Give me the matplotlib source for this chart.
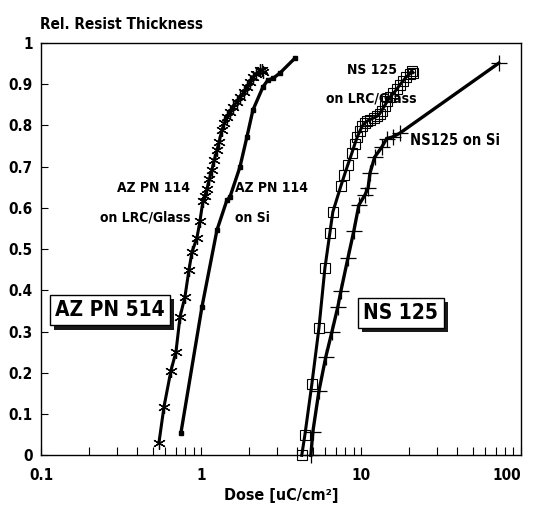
# Curvas de contraste: espesor relativo de resist frente a la dosis
import matplotlib
matplotlib.use('Agg')
import matplotlib.pyplot as plt
import matplotlib.patheffects as pe
from matplotlib.ticker import FixedLocator, LogLocator, NullFormatter

plt.rcParams['font.family'] = ['DejaVu Sans']
plt.rcParams['font.stretch'] = 'condensed'
plt.rcParams['font.weight'] = 'bold'

# AZ PN 114 sobre LRC/Glass (asteriscos)
az_glass_dose = [0.546, 0.587, 0.649, 0.698, 0.740, 0.794, 0.841, 0.879, 0.944, 0.986,
                 1.029, 1.06, 1.09, 1.13, 1.17, 1.21, 1.26, 1.30, 1.35, 1.40, 1.45,
                 1.52, 1.59, 1.67, 1.75, 1.85, 1.94, 2.03, 2.11, 2.22, 2.34, 2.40, 2.44]
az_glass_thk = [0.030, 0.117, 0.205, 0.251, 0.336, 0.384, 0.449, 0.493, 0.527, 0.568,
                0.617, 0.630, 0.645, 0.670, 0.692, 0.715, 0.740, 0.760, 0.788, 0.805, 0.820,
                0.832, 0.845, 0.857, 0.868, 0.880, 0.893, 0.905, 0.917, 0.925, 0.934, 0.935, 0.930]

# AZ PN 114 sobre Si (linea)
az_si_dose = [0.750, 1.015, 1.259, 1.454, 1.517, 1.753, 1.939, 2.113, 2.44, 2.62, 2.82, 3.12, 3.87]
az_si_thk = [0.055, 0.360, 0.546, 0.619, 0.626, 0.699, 0.772, 0.837, 0.893, 0.910, 0.914, 0.927, 0.963]

# NS 125 sobre LRC/Glass (cuadrados)
ns_glass_dose = [4.27, 4.47, 4.94, 5.47, 5.96, 6.40, 6.68, 7.50, 7.9, 8.3, 8.79, 9.17, 9.5,
                 9.86, 10.2, 10.6, 11.0, 11.4, 12.0, 12.6, 13.1, 13.5, 14.1, 14.6, 15.2,
                 16.0, 16.8, 17.5, 18.3, 19.2, 20.2, 20.8, 21.2]
ns_glass_thk = [0.0, 0.05, 0.173, 0.309, 0.454, 0.539, 0.590, 0.653, 0.68, 0.705, 0.733, 0.755, 0.772,
                0.786, 0.798, 0.806, 0.811, 0.814, 0.818, 0.822, 0.828, 0.836, 0.848, 0.858, 0.868,
                0.878, 0.888, 0.898, 0.907, 0.917, 0.925, 0.932, 0.928]

# NS125 sobre Si (cruces)
ns_si_dose = [4.87, 5.01, 5.47, 6.04, 6.59, 7.18, 7.50, 8.30, 9.04, 9.72, 10.6, 11.1, 11.4,
              12.2, 13.5, 14.5, 15.8, 17.5, 72.9]
ns_si_thk = [0.0, 0.057, 0.156, 0.239, 0.299, 0.360, 0.398, 0.478, 0.544, 0.607, 0.631, 0.648, 0.684,
             0.723, 0.747, 0.768, 0.772, 0.781, 0.951]

x_ticks = [0.1, 1, 10, 100]
x_tick_labels = ['0.1', '1', '10', '100']
y_ticks = [0, 0.1, 0.2, 0.3, 0.4, 0.5, 0.6, 0.7, 0.8, 0.9, 1]
y_tick_labels = ['0', '0.1', '0.2', '0.3', '0.4', '0.5', '0.6', '0.7', '0.8', '0.9', '1']

fig = plt.figure(figsize=(5.33, 5.11), dpi=100)
ax = fig.add_axes([0.077, 0.109, 0.9, 0.807])

asterisk = (6, 2, 0)
ax.plot(az_glass_dose, az_glass_thk, color='black', lw=2.2, marker=asterisk,
        ms=9, mew=0.9, clip_on=False)
ax.plot(az_si_dose, az_si_thk, color='black', lw=2.4, marker='s', ms=2.5, clip_on=False)
ax.plot(ns_glass_dose, ns_glass_thk, color='black', lw=2.2, marker='s', ms=6.5,
        mfc='none', mew=0.8, clip_on=False)
ax.plot(ns_si_dose, ns_si_thk, color='black', lw=2.4, marker='+', ms=11, mew=0.9, clip_on=False)

ax.set_xscale('log')
ax.set_xlim(0.1, 100)
ax.set_ylim(0, 1)
ax.xaxis.set_major_locator(FixedLocator(x_ticks))
ax.set_xticklabels(x_tick_labels)
ax.xaxis.set_minor_locator(LogLocator(base=10, subs=range(2, 10)))
ax.xaxis.set_minor_formatter(NullFormatter())
ax.set_yticks(y_ticks)
ax.set_yticklabels(y_tick_labels)
ax.tick_params(axis='both', which='both', direction='in', labelsize=11, width=0.8)
ax.tick_params(axis='x', which='both', length=6, pad=9, top=False)
ax.tick_params(axis='y', length=5, pad=6, right=False)
for s in ax.spines.values():
    s.set_linewidth(1.0)
# la etiqueta "100" queda dentro de la figura
ax.get_xticklabels()[-1].set_horizontalalignment('right')

ax.set_xlabel('Dose [uC/cm²]', fontsize=11.5, fontweight='bold', labelpad=4)
fig.text(0.075, 0.953, 'Rel. Resist Thickness', fontsize=11, fontweight='bold', va='center')

# Etiquetas de las curvas
ax.text(0.86, 0.612, 'AZ PN 114\non LRC/Glass', fontsize=10, ha='right', va='center', linespacing=2.4)
ax.text(1.63, 0.612, 'AZ PN 114\non Si', fontsize=10, ha='left', va='center', linespacing=2.4)
ax.text(11.7, 0.9, 'NS 125\non LRC/Glass', fontsize=10, ha='center', va='center', linespacing=2.3)
ax.text(20.2, 0.764, 'NS125 on Si', fontsize=10.5, ha='left', va='center')

# Cajas con sombra
shadow = [pe.withSimplePatchShadow(offset=(3, -3), shadow_rgbFace='black', alpha=0.9)]
for xx, yy, label in [(0.27, 0.352, 'AZ PN 514'), (17.8, 0.345, 'NS 125')]:
    t = ax.text(xx, yy, label, fontsize=15, fontweight='bold', ha='center', va='center',
                bbox=dict(boxstyle='square,pad=0.25', fc='white', ec='black', lw=1.0))
    t.get_bbox_patch().set_path_effects(shadow)

plt.savefig('out.png', dpi=100)
